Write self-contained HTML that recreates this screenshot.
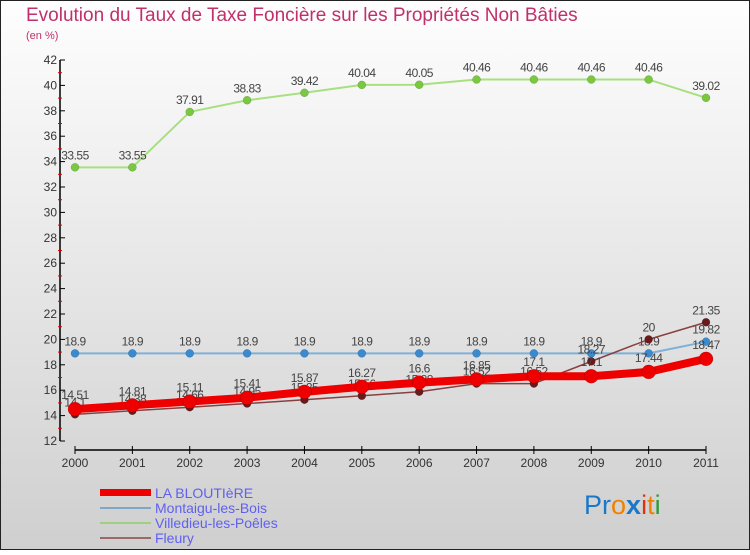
<!DOCTYPE html>
<html><head><meta charset="utf-8"><style>
body{margin:0;width:750px;height:550px;overflow:hidden;font-family:"Liberation Sans",sans-serif}
svg text{font-family:"Liberation Sans",sans-serif}
</style></head><body>
<svg id="c" width="750" height="550" xmlns="http://www.w3.org/2000/svg">
<defs><linearGradient id="bg" x1="0" y1="0" x2="0" y2="1"><stop offset="0" stop-color="#fefefe"/><stop offset="1" stop-color="#cfcfcf"/></linearGradient></defs>
<rect x="0.5" y="0.5" width="749" height="549" fill="url(#bg)" stroke="#222"/>
<text x="26" y="21" font-size="19" fill="#c0306a">Evolution du Taux de Taxe Foncière sur les Propriétés Non Bâties</text>
<text x="26" y="39" font-size="11" fill="#c0306a">(en %)</text>
<g id="axes"></g><g id="series"></g>
<g>
<rect x="100" y="489" width="51" height="7" fill="#ee0000"/>
<text x="155" y="498" font-size="14" fill="#6060f0">LA BLOUTIèRE</text>
<rect x="100" y="507" width="51" height="2" fill="#7fa8c8"/>
<text x="155" y="513" font-size="14" fill="#6060f0">Montaigu-les-Bois</text>
<rect x="100" y="522" width="51" height="2" fill="#9fd080"/>
<text x="155" y="528" font-size="14" fill="#6060f0">Villedieu-les-Poêles</text>
<rect x="100" y="537" width="51" height="2" fill="#9a6a6a"/>
<text x="155" y="543" font-size="14" fill="#6060f0">Fleury</text>
</g>
<text x="584" y="514" font-size="27"><tspan fill="#1a78c8">Pr</tspan><tspan fill="#f08000">o</tspan><tspan fill="#1a78c8" font-weight="bold">x</tspan><tspan fill="#e03010">i</tspan><tspan fill="#f08000">t</tspan><tspan fill="#2a9a3a">i</tspan></text>
</svg>
<script>
const years=[2000,2001,2002,2003,2004,2005,2006,2007,2008,2009,2010,2011];
const yTicks=[12,14,16,18,20,22,24,26,28,30,32,34,36,38,40,42];
const bloutiere=[14.51,14.81,15.11,15.41,15.87,16.27,16.6,16.85,17.1,17.1,17.44,18.47];
const montaigu=[18.9,18.9,18.9,18.9,18.9,18.9,18.9,18.9,18.9,18.9,18.9,19.82];
const villedieu=[33.55,33.55,37.91,38.83,39.42,40.04,40.05,40.46,40.46,40.46,40.46,39.02];
const fleury=[14.1,14.38,14.66,14.95,15.25,15.56,15.88,16.52,16.52,18.27,20,21.35];
const NS='http://www.w3.org/2000/svg';
const xS=i=>75+i*(631/11);
const yS=v=>441-(v-12)*(381/30);
function mk(t,a,p){const e=document.createElementNS(NS,t);for(const k in a)e.setAttribute(k,a[k]);p.appendChild(e);return e;}
const ax=document.getElementById('axes');
let e=mk('line',{x1:60,y1:yS(42),x2:60,y2:yS(12),stroke:'#000','stroke-width':1.5},ax);


e=mk('line',{x1:75,y1:450,x2:706,y2:450,stroke:'#000','stroke-width':1.5},ax);


yTicks.forEach(v=>{
  mk('line',{x1:60,y1:yS(v),x2:65,y2:yS(v),stroke:'#000'},ax);
  if(v<42)mk('line',{x1:58,y1:yS(v+1),x2:62,y2:yS(v+1),stroke:'#e00000'},ax);
  const t=mk('text',{x:57,y:yS(v)+4,'font-size':12,fill:'#333','text-anchor':'end'},ax);
  t.textContent=v;
  
  
});
years.forEach((y,i)=>{
  mk('line',{x1:xS(i),y1:446,x2:xS(i),y2:454,stroke:'#000'},ax);
  const t=mk('text',{x:xS(i),y:467,'font-size':12,fill:'#333','text-anchor':'middle'},ax);
  t.textContent=y;
  
  
});
const sg=document.getElementById('series');
function draw(name,data,color,w,r,mcol,lblDy){
  const g=mk('g',{},sg);
  
  
  mk('polyline',{points:data.map((v,i)=>xS(i)+','+yS(v)).join(' '),fill:'none',stroke:color,'stroke-width':w,'stroke-linejoin':'round'},g);
  data.forEach((v,i)=>{
    const c=mk('circle',{cx:xS(i),cy:yS(v),r:r,fill:mcol,stroke:'rgba(0,0,0,0.25)','stroke-width':0.5},g);
    
    
    const t=mk('text',{x:xS(i),y:yS(v)+lblDy,'font-size':12,fill:'#444','text-anchor':'middle','letter-spacing':'-0.5'},g);
    t.textContent=v;
    
    
  });
}
draw('montaigu',montaigu,'#7fb0d8',2,4,'#3a8ad0',-8);
draw('villedieu',villedieu,'#a8e080',2,4,'#7ac840',-8);
draw('fleury',fleury,'#8a4040',1.5,4,'#6a1a1a',-8);
draw('la-bloutiere',bloutiere,'#ee0000',8,7,'#ee0000',-10);
</script>
</body></html>
